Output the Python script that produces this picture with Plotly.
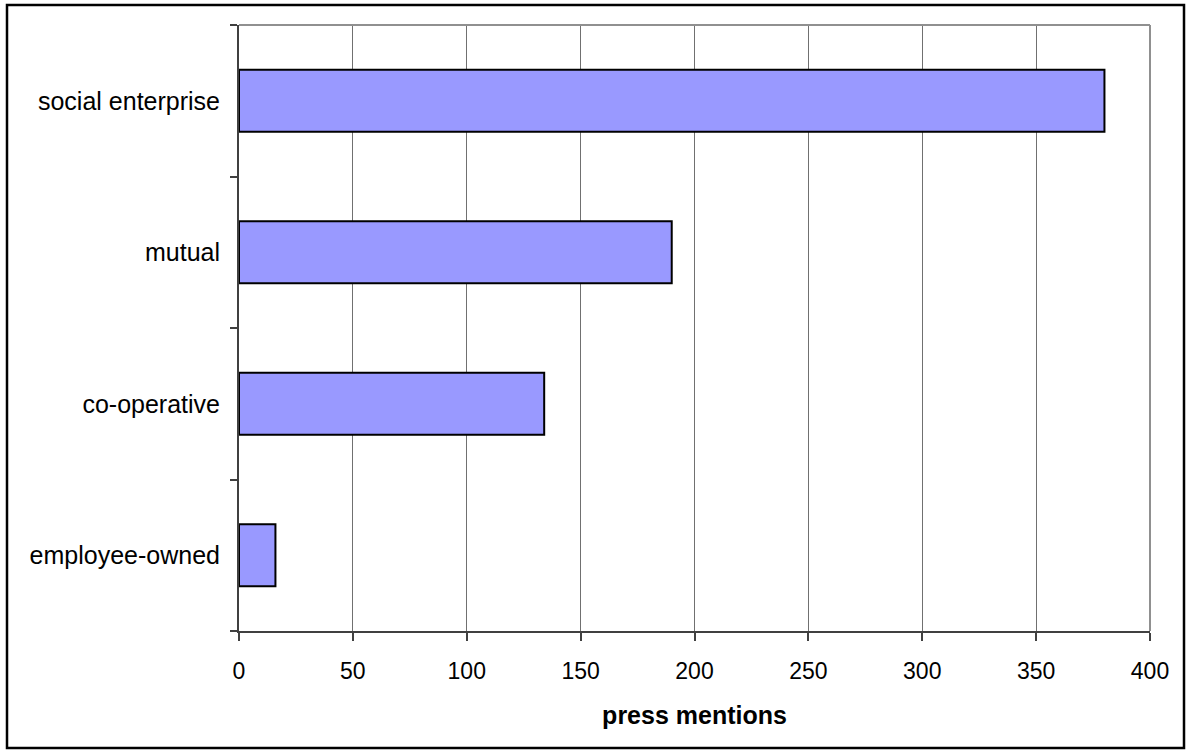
import plotly.graph_objects as go

categories = ["employee-owned", "co-operative", "mutual", "social enterprise"]
mentions = [16, 134, 190, 380]
x_ticks = [0, 50, 100, 150, 200, 250, 300, 350, 400]

fig = go.Figure()
fig.add_trace(go.Bar(
    x=mentions, y=categories, orientation="h",
    marker=dict(color="#9999FF", line=dict(color="black", width=2)),
    width=0.41,
))

W, H = 1190, 753
L, R, T, B = 239, 40, 25, 122
pw = W - L - R
ph = H - T - B

def px2x(px):
    return (px - L) / pw

def py2y(py):
    return (H - B - py) / ph

fig.update_layout(
    width=W, height=H,
    margin=dict(l=L, r=R, t=T, b=B),
    paper_bgcolor="white", plot_bgcolor="white",
    showlegend=False,
    font=dict(family="Liberation Sans, Arial", size=23, color="black"),
    xaxis=dict(
        range=[0, 400], tickvals=x_ticks, ticktext=[str(v) for v in x_ticks],
        showgrid=True, gridcolor="#707070", gridwidth=1,
        showline=True, linecolor="#404040", linewidth=2,
        ticks="outside", ticklen=8, tickcolor="#404040", tickwidth=1.5,
        ticklabelstandoff=10,
        tickfont=dict(size=23),
        zeroline=False,
        title=dict(text="<b>press mentions</b>", font=dict(size=25), standoff=24),
    ),
    yaxis=dict(
        type="category", categoryorder="array", categoryarray=categories,
        range=[-0.5, 3.5],
        tickson="boundaries",
        showgrid=False,
        showline=True, linecolor="#404040", linewidth=2,
        ticks="outside", ticklen=7, tickcolor="#404040", tickwidth=1.5,
        ticklabelstandoff=12,
        tickfont=dict(size=25),
    ),
    shapes=[
        dict(type="line", xref="paper", yref="paper", x0=0, x1=1, y0=1, y1=1,
             line=dict(color="#909090", width=2)),
        dict(type="line", xref="paper", yref="paper", x0=1, x1=1, y0=0, y1=1,
             line=dict(color="#909090", width=2)),
        dict(type="rect", xref="paper", yref="paper",
             x0=px2x(7), x1=px2x(1184), y0=py2y(5), y1=py2y(748),
             line=dict(color="black", width=2.5), layer="below"),
    ],
)

fig.write_html("out.html")
